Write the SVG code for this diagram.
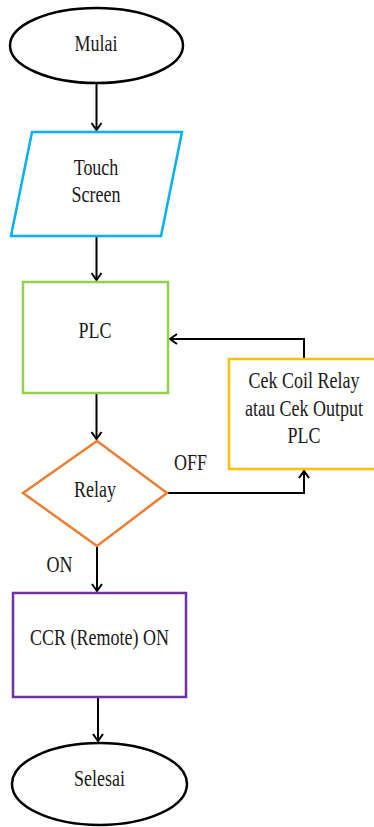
<svg xmlns="http://www.w3.org/2000/svg" width="374" height="827" viewBox="0 0 374 827">
<style>
text{font-size:18px;fill:#1a1a1a;text-anchor:middle}
.c{stroke:#000;stroke-width:2;fill:none}
.s{fill:#fff;stroke-width:2.5}
</style>
<defs>
<marker id="a" markerWidth="12" markerHeight="12" refX="9" refY="6" orient="auto" markerUnits="userSpaceOnUse">
<path d="M2,1 L9,6 L2,11" fill="none" stroke="#000" stroke-width="2"/>
</marker>
</defs>
<g id="connectors">
<path class="c" d="M96.5,83 V130" marker-end="url(#a)"/>
<path class="c" d="M96.5,236 V280" marker-end="url(#a)"/>
<path class="c" d="M96.5,393 V439" marker-end="url(#a)"/>
<path class="c" d="M97,546 V591" marker-end="url(#a)"/>
<path class="c" d="M98,697 V741" marker-end="url(#a)"/>
<path class="c" d="M167,493 H304 V471" marker-end="url(#a)"/>
<path class="c" d="M304,359 V339 H170" marker-end="url(#a)"/>
</g>
<g font-family="'Liberation Serif', 'Times New Roman', serif">
<g id="mulai">
<ellipse class="s" cx="96.5" cy="45.5" rx="86.5" ry="37.5" stroke="#000" stroke-width="2"/>
<text transform="translate(96,51) scale(1,1.3)">Mulai</text>
</g>
<g id="touch">
<polygon class="s" points="32,132 182,132 161,236 11,236" stroke="#00B0F0"/>
<text transform="translate(96,175) scale(1,1.3)">Touch</text>
<text transform="translate(96,202) scale(1,1.3)">Screen</text>
</g>
<g id="plc">
<rect class="s" x="23" y="282" width="145" height="111" stroke="#92D050"/>
<text transform="translate(95,338) scale(1,1.3)">PLC</text>
</g>
<g id="relay">
<polygon class="s" points="97,441 167,493 97,546 23,493" stroke="#ED7D31"/>
<text transform="translate(95,497) scale(1,1.3)">Relay</text>
</g>
<g id="cek">
<rect class="s" x="229" y="359" width="150" height="110" stroke="#FFC000" stroke-width="3"/>
<text transform="translate(304,388) scale(1,1.3)">Cek Coil Relay</text>
<text transform="translate(304,416) scale(1,1.3)">atau Cek Output</text>
<text transform="translate(304,443) scale(1,1.3)">PLC</text>
</g>
<g id="ccr">
<rect class="s" x="13" y="593" width="173" height="104" stroke="#7030A0"/>
<text transform="translate(99.5,645) scale(1,1.3)">CCR (Remote) ON</text>
</g>
<g id="selesai">
<ellipse class="s" cx="99.5" cy="784" rx="87.5" ry="41" stroke="#000" stroke-width="2"/>
<text transform="translate(99.5,786) scale(1,1.3)">Selesai</text>
</g>
<g id="labels">
<text transform="translate(190.5,470) scale(1,1.3)">OFF</text>
<text transform="translate(59.5,572) scale(1,1.3)">ON</text>
</g>
</g>
</svg>
